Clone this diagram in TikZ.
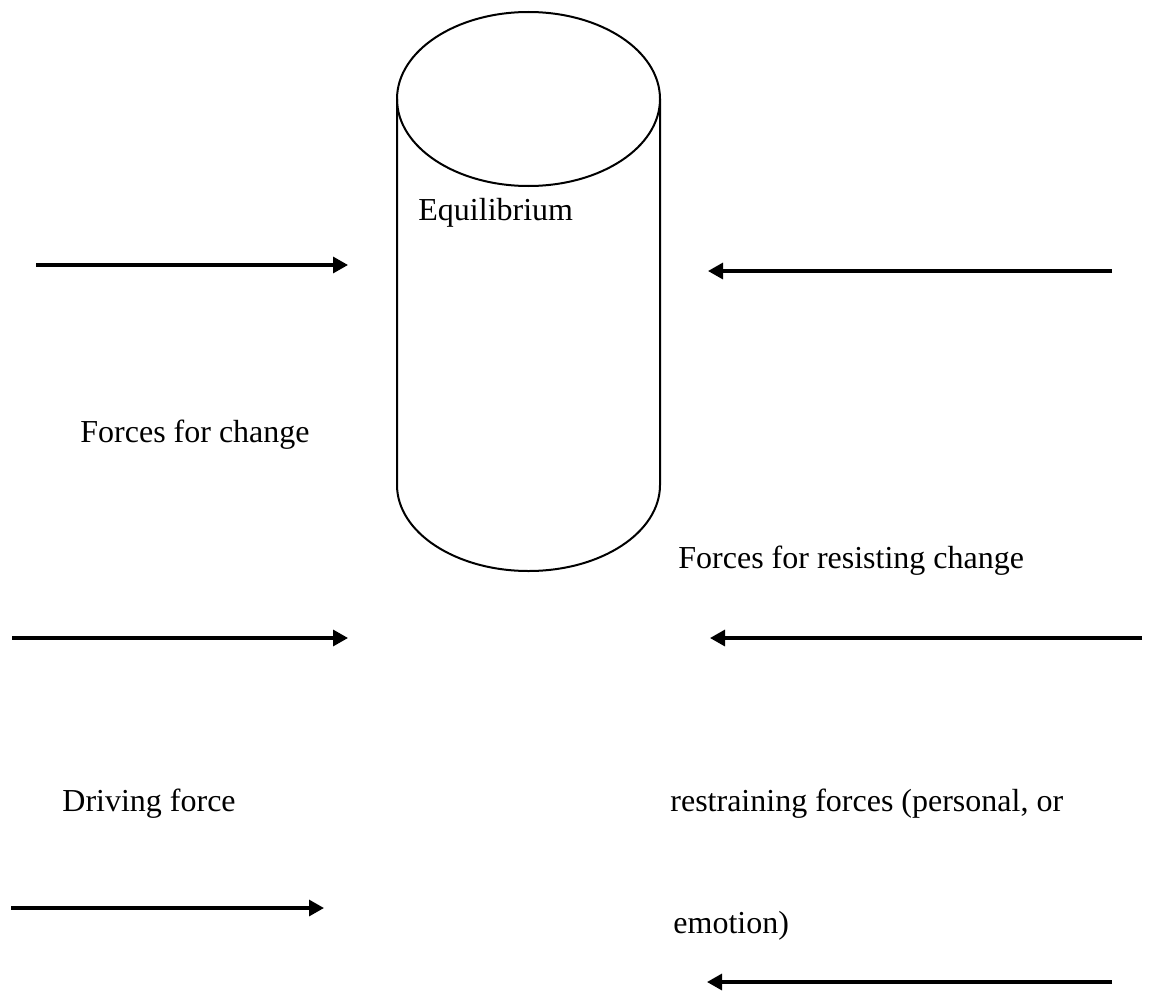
\documentclass[tikz,border=0pt]{standalone}
\usepackage{fontspec}
\setmainfont{Liberation Serif}
\usetikzlibrary{arrows.meta}
\tikzset{
  force/.style={line width=1.6pt,-{Triangle[length=7.5pt,width=8pt]}},
  lbl/.style={anchor=base west,inner sep=0pt,font=\fontsize{16}{19}\selectfont},
  drum/.style={line width=1pt}
}
\begin{document}
\begin{tikzpicture}[x=0.5pt,y=-0.5pt]
\useasboundingbox (0,0) rectangle (1150,990);

\draw[drum] (528.5,99) ellipse [x radius=131.5,y radius=87];
\draw[drum] (397,99) -- (397,485) arc[start angle=180,end angle=0,x radius=131.5,y radius=86] -- (660,99);

\node[lbl] (equil) at (418,220) {Equilibrium};
\node[lbl] (forchange) at (80,442) {Forces for change};
\node[lbl] (resisting) at (678,568) {Forces for resisting change};
\node[lbl] (driving) at (62,811) {Driving force};
\node[lbl] (restrain) at (670,811) {restraining forces (personal, or};
\node[lbl] (emotion) at (673,933) {emotion)};

\coordinate (d1a) at (36,265);   \coordinate (d1b) at (348,265);
\coordinate (r1a) at (1112,271); \coordinate (r1b) at (708,271);
\coordinate (d2a) at (12,638);   \coordinate (d2b) at (348,638);
\coordinate (r2a) at (1142,638); \coordinate (r2b) at (710,638);
\coordinate (d3a) at (11,908);   \coordinate (d3b) at (324,908);
\coordinate (r3a) at (1112,982); \coordinate (r3b) at (707,982);

\draw[force] (d1a) -- (d1b);
\draw[force] (r1a) -- (r1b);
\draw[force] (d2a) -- (d2b);
\draw[force] (r2a) -- (r2b);
\draw[force] (d3a) -- (d3b);
\draw[force] (r3a) -- (r3b);
\end{tikzpicture}
\end{document}
